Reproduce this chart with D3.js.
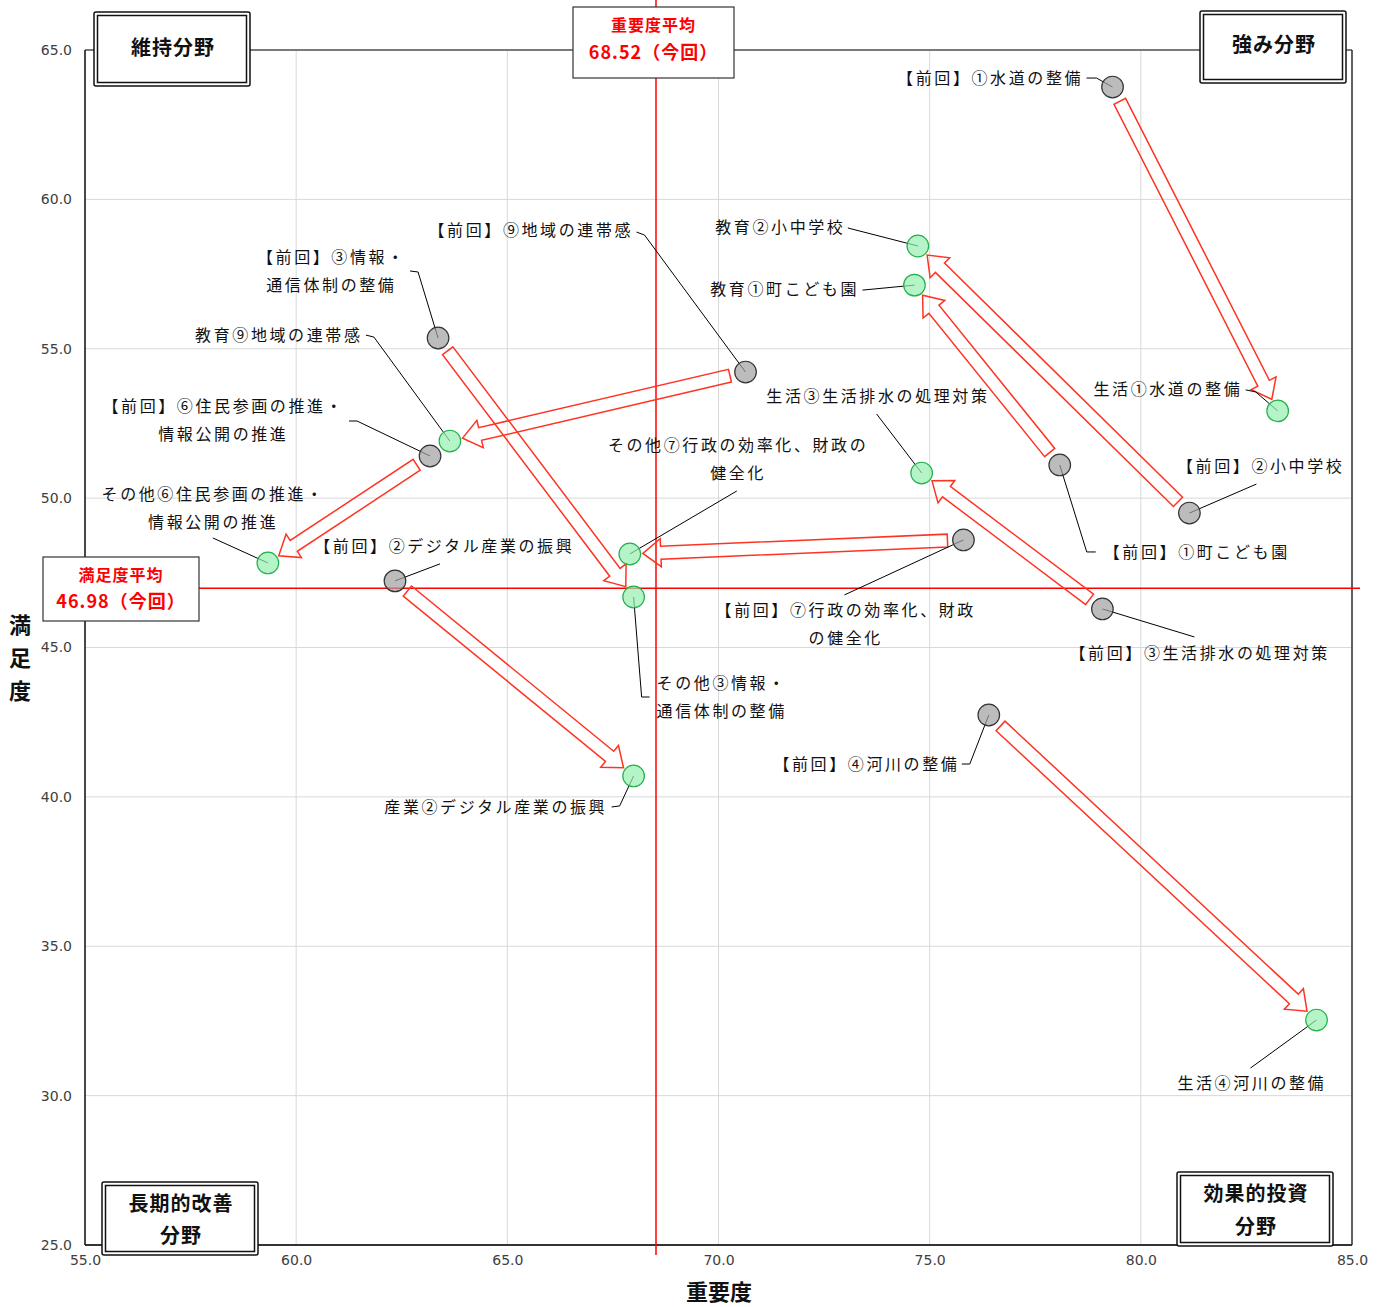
<!DOCTYPE html>
<html>
<head>
<meta charset="utf-8">
<script src="https://cdn.jsdelivr.net/npm/d3@7"></script>
<style>
body { margin: 0; background: #fff; }
</style>
</head>
<body>
<script>
// data
var prevLabels = ['【前回】①水道の整備', '【前回】②小中学校', '【前回】①町こども園', '【前回】③生活排水の処理対策', '【前回】④河川の整備',
    '【前回】⑦行政の効率化、財政|の健全化', '【前回】⑨地域の連帯感', '【前回】③情報・|通信体制の整備', '【前回】⑥住民参画の推進・|情報公開の推進', '【前回】②デジタル産業の振興'];
var curLabels = ['生活①水道の整備', '教育②小中学校', '教育①町こども園', '生活③生活排水の処理対策', '生活④河川の整備',
    'その他⑦行政の効率化、財政の|健全化', '教育⑨地域の連帯感', 'その他③情報・|通信体制の整備', 'その他⑥住民参画の推進・|情報公開の推進', '産業②デジタル産業の振興'];
var prevImp = [79.33, 81.15, 78.08, 79.09, 76.40, 75.80, 70.64, 63.36, 63.17, 62.34];
var prevSat = [63.76, 49.50, 51.11, 46.29, 42.74, 48.60, 54.22, 55.36, 51.41, 47.23];
var curImp = [83.24, 74.72, 74.64, 74.81, 84.16, 67.90, 63.64, 67.99, 59.33, 67.99];
var curSat = [52.92, 58.44, 57.13, 50.84, 32.53, 48.13, 51.91, 46.69, 47.83, 40.70];
var xTicks = [55, 60, 65, 70, 75, 80, 85];
var yTicks = [25, 30, 35, 40, 45, 50, 55, 60, 65];
var impAvg = 68.52, satAvg = 46.98;

// label placement (pixel offsets from the point), layout only
var prevPos = [
    { dx: -32, dy: -9, a: 'end', lead: [[-26, -9], [-16, -9]] },
    { dx: 70, dy: -47, a: 'middle', lead: [[67, -29]] },
    { dx: 44, dy: 87, a: 'start', lead: [[36, 87], [27, 87]] },
    { dx: 96, dy: 44, a: 'middle', lead: [[92, 28]] },
    { dx: -32, dy: 49, a: 'end', lead: [[-27, 49], [-19, 49]] },
    { dx: -119, dy: 70, a: 'middle', lead: [[-119, 55]] },
    { dx: -115, dy: -142, a: 'end', lead: [[-109, -140], [-101, -137]] },
    { dx: -108, dy: -81, a: 'middle', lead: [[-28, -67], [-20, -66]] },
    { dx: -208, dy: -50, a: 'middle', lead: [[-81, -35], [-73, -35]] },
    { dx: 48, dy: -34, a: 'middle', lead: [[45, -17]] }
];
var curPos = [
    { dx: -38, dy: -21, a: 'end', lead: [[-32, -21], [-22, -19]] },
    { dx: -75, dy: -19, a: 'end', lead: [[-70, -18]] },
    { dx: -58, dy: 4, a: 'end', lead: [[-52, 5]] },
    { dx: -45, dy: -77, a: 'middle', lead: [[-45, -59]] },
    { dx: -66, dy: 63, a: 'middle', lead: [[-66, 48]] },
    { dx: 107, dy: -109, a: 'middle', lead: [[107, -63]] },
    { dx: -90, dy: -106, a: 'end', lead: [[-84, -106], [-76, -104]] },
    { dx: 23, dy: 86, a: 'start', lead: [[16, 100], [8, 100]] },
    { dx: -56, dy: -69, a: 'middle', lead: [[-55, -25]] },
    { dx: -29, dy: 31, a: 'end', lead: [[-22, 31], [-14, 30]] }
];

var font = '"Noto Sans CJK JP", "Noto Sans", sans-serif';

var svg = d3.select('body').append('svg')
    .attr('width', 1386)
    .attr('height', 1307)
    .style('font-family', font);

//scales
var xscale = d3.scaleLinear().domain([55, 85]).range([85, 1352]);
var yscale = d3.scaleLinear().domain([25, 65]).range([1245, 50]);

//gridlines
svg.append('g')
    .selectAll('line.gx').data(xTicks).enter().append('line')
    .attr('x1', function (d) { return xscale(d); })
    .attr('x2', function (d) { return xscale(d); })
    .attr('y1', yscale(65)).attr('y2', yscale(25))
    .style('stroke', '#d9d9d9').style('stroke-width', 1);
svg.append('g')
    .selectAll('line.gy').data(yTicks).enter().append('line')
    .attr('x1', xscale(55)).attr('x2', xscale(85))
    .attr('y1', function (d) { return yscale(d); })
    .attr('y2', function (d) { return yscale(d); })
    .style('stroke', '#d9d9d9').style('stroke-width', 1);

//axes
var yaxis = d3.axisLeft(yscale).tickValues(yTicks).tickFormat(d3.format('.1f')).tickSize(0).tickPadding(13);
var xaxis = d3.axisBottom(xscale).tickValues(xTicks).tickFormat(d3.format('.1f')).tickSize(0).tickPadding(10);

var gy = svg.append('g').attr('transform', 'translate(' + xscale(55) + ',0)').call(yaxis);
var gx = svg.append('g').attr('transform', 'translate(0,' + yscale(25) + ')').call(xaxis);
[gx, gy].forEach(function (g) {
    g.select('.domain').remove();
    g.selectAll('text')
        .style('font-family', '"DejaVu Sans", sans-serif')
        .style('font-size', '14px')
        .style('fill', '#404040');
});

//frame
svg.append('line').attr('x1', xscale(55)).attr('x2', xscale(85)).attr('y1', yscale(65)).attr('y2', yscale(65))
    .style('stroke', '#555').style('stroke-width', 1.5);
svg.append('line').attr('x1', xscale(85)).attr('x2', xscale(85)).attr('y1', yscale(65)).attr('y2', yscale(25))
    .style('stroke', '#333').style('stroke-width', 1.5);
svg.append('line').attr('x1', xscale(55)).attr('x2', xscale(85)).attr('y1', yscale(25)).attr('y2', yscale(25))
    .style('stroke', '#333').style('stroke-width', 2);
svg.append('line').attr('x1', xscale(55)).attr('x2', xscale(55)).attr('y1', yscale(65)).attr('y2', yscale(25))
    .style('stroke', '#111').style('stroke-width', 1.5);

//average lines
svg.append('line')
    .attr('x1', xscale(impAvg)).attr('x2', xscale(impAvg))
    .attr('y1', 0).attr('y2', yscale(25) + 10)
    .style('stroke', '#ff0000').style('stroke-width', 1.5);
svg.append('line')
    .attr('x1', 43).attr('x2', xscale(85) + 8)
    .attr('y1', yscale(satAvg)).attr('y2', yscale(satAvg))
    .style('stroke', '#ff0000').style('stroke-width', 1.5);

//arrows (hollow block arrows from previous to current)
var sw = 6.5, hw = 14, hl = 18, gap0 = 16, gap1 = 13;
var arrows = svg.append('g');
prevImp.forEach(function (v, i) {
    var x0 = xscale(v), y0 = yscale(prevSat[i]);
    var x1 = xscale(curImp[i]), y1 = yscale(curSat[i]);
    var dx = x1 - x0, dy = y1 - y0;
    var len = Math.sqrt(dx * dx + dy * dy);
    var ang = Math.atan2(dy, dx) * 180 / Math.PI;
    var L = len - gap0 - gap1;
    var pts = [[0, -sw], [L - hl, -sw], [L - hl, -hw], [L, 0], [L - hl, hw], [L - hl, sw], [0, sw]];
    arrows.append('polygon')
        .attr('transform', 'translate(' + x0 + ',' + y0 + ') rotate(' + ang + ') translate(' + gap0 + ',0)')
        .attr('points', pts.map(function (p) { return p.join(','); }).join(' '))
        .style('fill', 'none')
        .style('stroke', '#ff3322')
        .style('stroke-width', 1.5)
        .style('stroke-linejoin', 'miter');
});

//labels + leader lines
function drawLabels(imp, sat, labels, pos) {
    var g = svg.append('g');
    imp.forEach(function (v, i) {
        var px = xscale(v), py = yscale(sat[i]), p = pos[i];
        var pts = p.lead.map(function (q) { return [px + q[0], py + q[1]]; });
        pts.push([px, py]);
        g.append('path')
            .attr('d', d3.line()(pts))
            .style('fill', 'none')
            .style('stroke', '#000')
            .style('stroke-width', 1);
        var lines = labels[i].split('|');
        var t = g.append('text')
            .attr('text-anchor', p.a)
            .style('font-size', '16px')
            .style('letter-spacing', '2.6px')
            .style('fill', '#111');
        lines.forEach(function (s, k) {
            t.append('tspan')
                .attr('x', px + p.dx + (p.a === 'end' ? 2.6 : (p.a === 'middle' ? 1.3 : 0)))
                .attr('y', py + p.dy + k * 28)
                .attr('dy', '0.35em')
                .text(s);
        });
    });
}
drawLabels(prevImp, prevSat, prevLabels, prevPos);
drawLabels(curImp, curSat, curLabels, curPos);

//points
svg.append('g').selectAll('circle').data(prevImp).enter().append('circle')
    .attr('cx', function (d) { return xscale(d); })
    .attr('cy', function (d, i) { return yscale(prevSat[i]); })
    .attr('r', 10.8)
    .style('fill', 'rgba(160,160,160,0.7)')
    .style('stroke', '#333')
    .style('stroke-width', 1.2);
svg.append('g').selectAll('circle').data(curImp).enter().append('circle')
    .attr('cx', function (d) { return xscale(d); })
    .attr('cy', function (d, i) { return yscale(curSat[i]); })
    .attr('r', 10.8)
    .style('fill', 'rgba(150,240,175,0.7)')
    .style('stroke', '#22b14c')
    .style('stroke-width', 1.2);

//quadrant boxes
var quads = [
    { x: 94, y: 12, w: 156, h: 74, lines: ['維持分野'], ty: [48] },
    { x: 1200, y: 11, w: 146, h: 72, lines: ['強み分野'], ty: [45] },
    { x: 102, y: 1182, w: 156, h: 73, lines: ['長期的改善', '分野'], ty: [1204, 1236] },
    { x: 1177, y: 1172, w: 156, h: 74, lines: ['効果的投資', '分野'], ty: [1194, 1227] }
];
quads.forEach(function (q) {
    var g = svg.append('g');
    g.append('rect').attr('x', q.x).attr('y', q.y).attr('width', q.w).attr('height', q.h).attr('rx', 2)
        .style('fill', '#fff').style('stroke', '#111').style('stroke-width', 1.5);
    g.append('rect').attr('x', q.x + 3.5).attr('y', q.y + 3.5).attr('width', q.w - 7).attr('height', q.h - 7)
        .style('fill', 'none').style('stroke', '#111').style('stroke-width', 1.5);
    q.lines.forEach(function (s, k) {
        g.append('text')
            .attr('x', q.x + q.w / 2 + 1)
            .attr('y', q.ty[k])
            .attr('dy', '0.35em')
            .attr('text-anchor', 'middle')
            .style('font-size', '20px')
            .style('font-weight', 'bold')
            .style('letter-spacing', '1px')
            .style('fill', '#111')
            .text(s);
    });
});

//average boxes
var avgBoxes = [
    { x: 573, y: 7, w: 161, h: 71, t1: '重要度平均', t2: d3.format('.2f')(impAvg) + '（今回）', y1: 25, y2: 53 },
    { x: 43, y: 557, w: 156, h: 64, t1: '満足度平均', t2: d3.format('.2f')(satAvg) + '（今回）', y1: 575, y2: 602 }
];
avgBoxes.forEach(function (b) {
    var g = svg.append('g');
    g.append('rect').attr('x', b.x).attr('y', b.y).attr('width', b.w).attr('height', b.h)
        .style('fill', '#fff').style('stroke', '#333').style('stroke-width', 1.2);
    g.append('text').attr('x', b.x + b.w / 2).attr('y', b.y1).attr('dy', '0.35em')
        .attr('text-anchor', 'middle')
        .style('font-size', '16px').style('font-weight', 'bold').style('letter-spacing', '1px')
        .style('fill', '#ff0000').text(b.t1);
    g.append('text').attr('x', b.x + b.w / 2).attr('y', b.y2).attr('dy', '0.35em')
        .attr('text-anchor', 'middle')
        .style('font-size', '18px').style('font-weight', 'bold').style('letter-spacing', '1px')
        .style('fill', '#ff0000').text(b.t2);
});

//axis titles
svg.append('text')
    .attr('x', 719).attr('y', 1292).attr('dy', '0.35em')
    .attr('text-anchor', 'middle')
    .style('font-size', '22px').style('font-weight', 'bold').style('fill', '#111')
    .text('重要度');
var yt = svg.append('text')
    .attr('text-anchor', 'middle')
    .style('font-size', '22px').style('font-weight', 'bold').style('fill', '#111');
'満足度'.split('').forEach(function (c, k) {
    yt.append('tspan').attr('x', 20).attr('y', 625 + k * 33).attr('dy', '0.35em').text(c);
});
</script>
</body>
</html>
